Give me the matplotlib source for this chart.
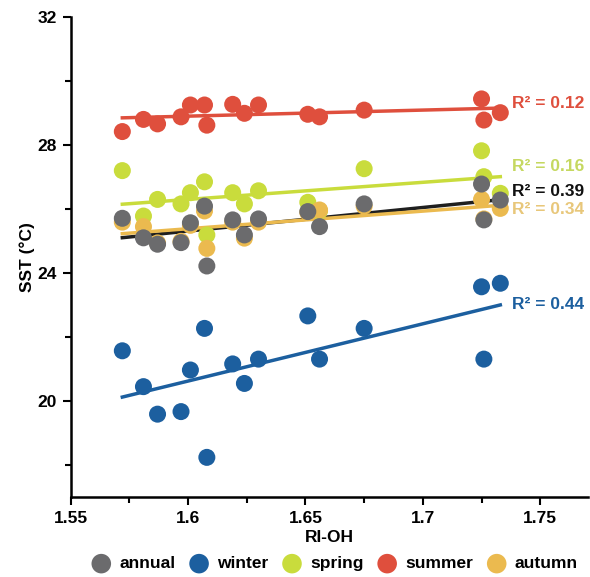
import numpy as np
import matplotlib.pyplot as plt

plt.rcParams['font.family'] = ['Liberation Sans', 'DejaVu Sans']
plt.rcParams['font.weight'] = 'bold'

# RI-OH of the 16 samples
ri_oh = [1.572, 1.581, 1.587, 1.597, 1.601, 1.607, 1.608, 1.619,
         1.624, 1.630, 1.651, 1.656, 1.675, 1.725, 1.726, 1.733]

# SST (deg C) per season
annual = [25.72, 25.11, 24.91, 24.96, 25.58, 26.10, 24.23, 25.67,
          25.20, 25.70, 25.93, 25.46, 26.17, 26.79, 25.67, 26.29]
winter = [21.58, 20.46, 19.60, 19.68, 20.98, 22.28, 18.25, 21.17,
          20.56, 21.32, 22.67, 21.32, 22.28, 23.58, 21.32, 23.69]
spring = [27.21, 25.79, 26.31, 26.17, 26.52, 26.86, 25.20, 26.52,
          26.17, 26.58, 26.22, 25.95, 27.27, 27.83, 27.02, 26.50]
summer = [28.43, 28.81, 28.67, 28.89, 29.26, 29.26, 28.63, 29.28,
          29.00, 29.26, 28.97, 28.89, 29.10, 29.45, 28.79, 29.02]
autumn = [25.60, 25.46, 24.95, 25.00, 25.50, 25.95, 24.78, 25.60,
          25.10, 25.60, 25.90, 25.98, 26.10, 26.31, 25.70, 26.03]

r2 = {'annual': 0.39, 'winter': 0.44, 'spring': 0.16, 'summer': 0.12, 'autumn': 0.34}

colors = {'annual': '#6b6b6d', 'winter': '#1c5f9f', 'spring': '#c9dc3c',
          'summer': '#df4f3d', 'autumn': '#ebba4f'}
line_colors = dict(colors, annual='#1f1f1f')
label_colors = dict(colors, annual='#111111', spring='#c5d860', autumn='#e8c77a')
# vertical position of the R2 labels (data units)
label_y = {'summer': 29.32, 'spring': 27.33, 'annual': 26.55, 'autumn': 25.98, 'winter': 23.03}

series = {'annual': annual, 'winter': winter, 'spring': spring,
          'summer': summer, 'autumn': autumn}
zorders = {'spring': 3, 'autumn': 4, 'annual': 5, 'summer': 5, 'winter': 5}

fig = plt.figure(figsize=(5.9, 5.77), dpi=100)
ax = fig.add_axes([0.1198, 0.138, 0.877, 0.832])

x = np.array(ri_oh)
xfit = np.array([x.min(), x.max()])
for name, vals in series.items():
    vals = np.array(vals)
    ax.scatter(x, vals, s=150, color=colors[name], edgecolors='none',
               zorder=zorders[name], label=name)
    k, b = np.polyfit(x, vals, 1)
    ax.plot(xfit, k * xfit + b, color=line_colors[name], lw=2.5, zorder=2.5)
    ax.text(1.738, label_y[name], f'R\u00b2 = {r2[name]:.2f}', color=label_colors[name],
            fontsize=12.5, fontweight='bold', va='center', ha='left', zorder=6)

ax.set_xlim(1.55, 1.7704)
ax.set_ylim(17, 32)
ax.set_xticks([1.55, 1.6, 1.65, 1.7, 1.75])
ax.set_xticklabels(['1.55', '1.6', '1.65', '1.7', '1.75'])
ax.set_xticks(np.arange(1.575, 1.76, 0.05), minor=True)
ax.set_yticks([20, 24, 28, 32])
ax.set_yticks([18, 22, 26, 30], minor=True)
ax.tick_params(which='major', length=6, width=1.5, labelsize=12.5, pad=4)
ax.tick_params(which='minor', length=4, width=1.5)
for s in ['top', 'right']:
    ax.spines[s].set_visible(False)
for s in ['left', 'bottom']:
    ax.spines[s].set_linewidth(1.8)

ax.set_xlabel('RI-OH', fontsize=12.5, fontweight='bold', labelpad=3)
ax.set_ylabel('SST (\u00b0C)', fontsize=12.5, fontweight='bold', labelpad=2)

fig.legend(loc='lower center', bbox_to_anchor=(0.561, -0.008), ncol=5, frameon=False,
           prop={'size': 12.5, 'weight': 'bold'}, handletextpad=0.05, columnspacing=0.35,
           markerscale=1.15, borderaxespad=0.2)

fig.savefig('out.png', dpi=100)
